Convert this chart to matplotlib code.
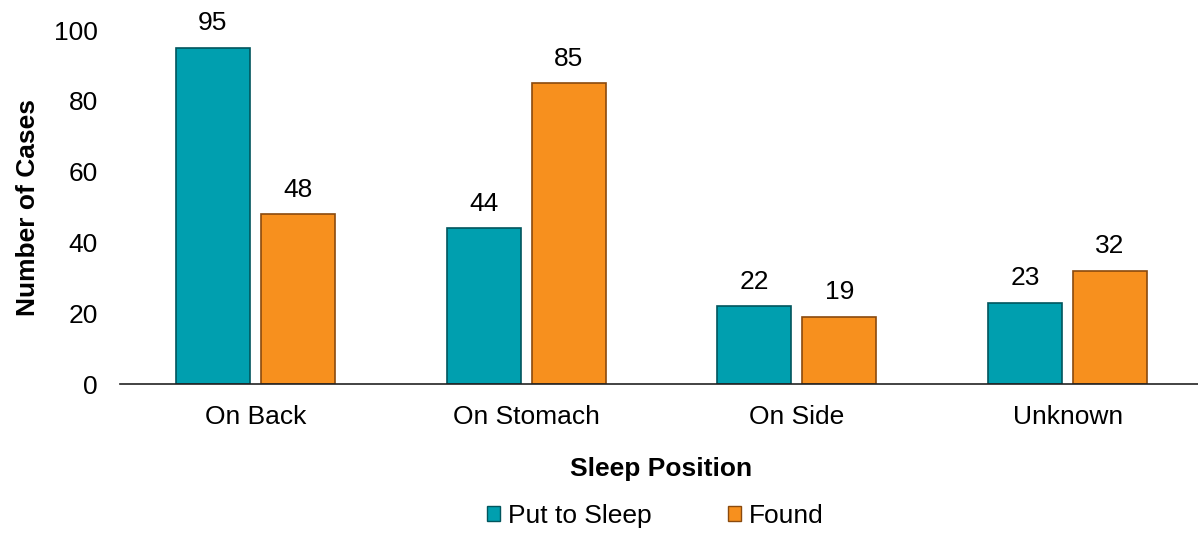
import matplotlib
matplotlib.use("Agg")
import matplotlib.pyplot as plt
import numpy as np
from matplotlib.patches import Patch

categories = ["On Back", "On Stomach", "On Side", "Unknown"]
put_to_sleep = [95, 44, 22, 23]
found = [48, 85, 19, 32]
series_names = ["Put to Sleep", "Found"]

plt.rcParams['font.family'] = ['Liberation Sans', 'DejaVu Sans']
FS = 19

fig = plt.figure(figsize=(11.98, 5.34), dpi=100)
ax = fig.add_axes([120 / 1198, 1 - 384 / 534, 1083 / 1198, 354 / 534])

x = np.arange(len(categories))
w = 0.273
off = 0.157
teal, teal_e = "#009FAF", "#01555D"
orange, orange_e = "#F7901E", "#8A4A0E"
b1 = ax.bar(x - off, put_to_sleep, w, color=teal, edgecolor=teal_e, linewidth=1.2)
b2 = ax.bar(x + off, found, w, color=orange, edgecolor=orange_e, linewidth=1.2)

for bars, vals in ((b1, put_to_sleep), (b2, found)):
    for r, v in zip(bars, vals):
        ax.annotate(str(v), (r.get_x() + r.get_width() / 2, v), xytext=(0, 9),
                    textcoords="offset points", ha="center", va="bottom", fontsize=FS)

ax.set_xlim(-0.5, 3.5)
ax.set_ylim(0, 100)
ax.set_yticks([0, 20, 40, 60, 80, 100])
ax.set_xticks(x)
ax.set_xticklabels(categories)
ax.tick_params(axis='both', labelsize=FS, length=0)
ax.tick_params(axis='x', pad=15)
ax.tick_params(axis='y', pad=16)
for s in ("top", "right", "left"):
    ax.spines[s].set_visible(False)
ax.spines["bottom"].set_color("#222222")
ax.spines["bottom"].set_linewidth(1.2)

ax.set_xlabel("Sleep Position", fontsize=FS, fontweight="bold", labelpad=20)
ax.set_ylabel("Number of Cases", fontsize=FS, fontweight="bold", labelpad=10)

handles = [Patch(facecolor=teal, edgecolor=teal_e), Patch(facecolor=orange, edgecolor=orange_e)]
fig.legend(handles, series_names, loc="center", bbox_to_anchor=(0.547, 1 - 516 / 534), ncol=2,
           frameon=False, fontsize=FS, handlelength=0.5, handleheight=0.5,
           handletextpad=0.3, columnspacing=2.9, borderpad=0)

fig.savefig("out.png", dpi=100)
